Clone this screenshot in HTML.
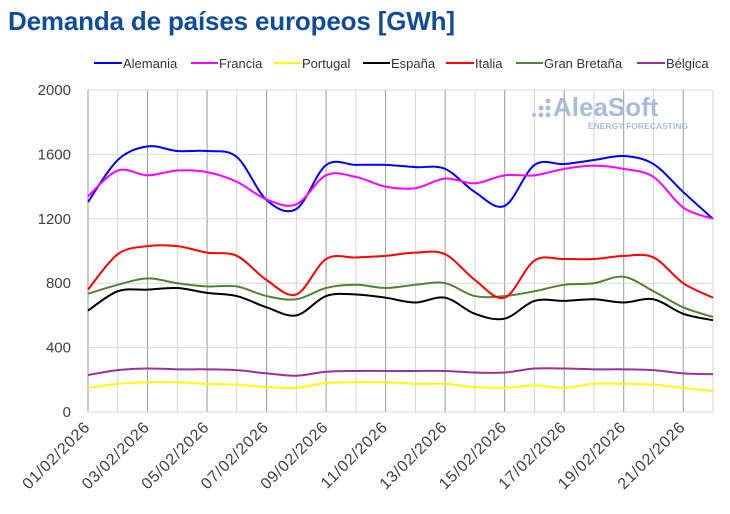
<!DOCTYPE html>
<html><head><meta charset="utf-8"><style>
body{margin:0;background:#fff;width:730px;height:509px;overflow:hidden;font-family:"Liberation Sans",sans-serif}
</style></head><body>
<svg id="s" width="730" height="509" xmlns="http://www.w3.org/2000/svg">
<text x="8" y="30" font-family="Liberation Sans" font-weight="bold" font-size="26" fill="#0f4c9c" textLength="447">Demanda de países europeos [GWh]</text>
<g id="grid"></g>
<g font-size="13" fill="#333" font-family="Liberation Sans">
<line x1="94" y1="63" x2="122" y2="63" stroke="#0000ff" stroke-width="2"/><text x="123" y="68">Alemania</text>
<line x1="191" y1="63" x2="218" y2="63" stroke="#ff00ff" stroke-width="2"/><text x="219" y="68">Francia</text>
<line x1="274" y1="63" x2="301" y2="63" stroke="#ffff00" stroke-width="2"/><text x="302" y="68">Portugal</text>
<line x1="363" y1="63" x2="390" y2="63" stroke="#000" stroke-width="2"/><text x="391" y="68">España</text>
<line x1="446" y1="63" x2="474" y2="63" stroke="#ff0000" stroke-width="2"/><text x="475" y="68">Italia</text>
<line x1="516" y1="63" x2="543" y2="63" stroke="#548235" stroke-width="2"/><text x="544" y="68">Gran Bretaña</text>
<line x1="637" y1="63" x2="665" y2="63" stroke="#993399" stroke-width="2"/><text x="666" y="68">Bélgica</text>
</g>
<g fill="#a9bdd9" font-weight="bold">
<text x="553" y="116" font-size="26">AleaSoft</text>
<text x="588" y="129" font-size="8.5">ENERGY FORECASTING</text>
<circle cx="548" cy="101" r="2.5"/><circle cx="548" cy="108" r="2.5"/><circle cx="541" cy="108" r="2.5"/><circle cx="548" cy="115" r="2.5"/><circle cx="541" cy="115" r="2.5"/><circle cx="534" cy="115" r="2"/>
</g>
<g id="series"></g>
</svg>
<script>
var L=88,R=713,T=90,B=412,N=21,dx=(R-L)/N;
function X(i){return L+dx*i}function Y(v){return B-(B-T)*v/2000}
var g='';
for(var i=0;i<=N;i++){g+='<line x1="'+X(i)+'" y1="'+T+'" x2="'+X(i)+'" y2="'+B+'" stroke="'+(i%2==0?'#999':'#d4d4d4')+'" stroke-width="1"/>';}
for(var v=0;v<=2000;v+=400){g+='<line x1="'+L+'" y1="'+Y(v)+'" x2="'+R+'" y2="'+Y(v)+'" stroke="#d9d9d9" stroke-width="1"/>';
g+='<text x="71" y="'+(Y(v)+5)+'" text-anchor="end" font-size="15" fill="#404040">'+v+'</text>';}
for(var i=0;i<=20;i+=2){var d=(i+1<10?'0':'')+(i+1)+'/02/2026';
g+='<text transform="translate('+(X(i)+3)+',428) rotate(-45)" text-anchor="end" font-size="16" letter-spacing="0.8" fill="#404040">'+d+'</text>';}
document.getElementById('grid').innerHTML=g;
var S=[
['#0000ff',[1304,1565,1650,1621,1621,1584,1317,1261,1534,1535,1535,1521,1510,1366,1280,1534,1540,1565,1590,1540,1366,1200]],
['#ff00ff',[1340,1500,1470,1500,1490,1430,1320,1290,1470,1460,1400,1390,1450,1420,1470,1470,1510,1530,1510,1460,1270,1200]],
['#ffff00',[150,175,185,185,175,170,155,150,180,185,185,175,175,155,150,165,150,175,175,170,150,130]],
['#548235',[735,790,830,800,780,780,720,700,770,790,770,790,800,720,720,750,790,800,840,750,650,590]],
['#000000',[630,750,760,770,740,720,650,600,720,730,710,680,710,610,580,690,690,700,680,700,610,570]],
['#ff0000',[760,980,1030,1030,990,970,820,730,950,960,970,990,980,820,710,940,950,950,970,960,800,710]],
['#993399',[230,260,270,265,265,260,240,225,250,255,255,255,255,245,245,270,270,265,265,260,240,235]]];
var h='';
S.forEach(function(s){var p=s[1].map(function(v,i){return[X(i),Y(v)]});var d='M'+p[0][0]+','+p[0][1];
for(var i=0;i<p.length-1;i++){var p0=p[i-1]||p[i],p1=p[i],p2=p[i+1],p3=p[i+2]||p[i+1];
d+=' C'+(p1[0]+(p2[0]-p0[0])/6)+','+(p1[1]+(p2[1]-p0[1])/6)+' '+(p2[0]-(p3[0]-p1[0])/6)+','+(p2[1]-(p3[1]-p1[1])/6)+' '+p2[0]+','+p2[1];}
h+='<path d="'+d+'" fill="none" stroke="'+s[0]+'" stroke-width="2"/>';});
document.getElementById('series').innerHTML=h;
</script>
</body></html>
